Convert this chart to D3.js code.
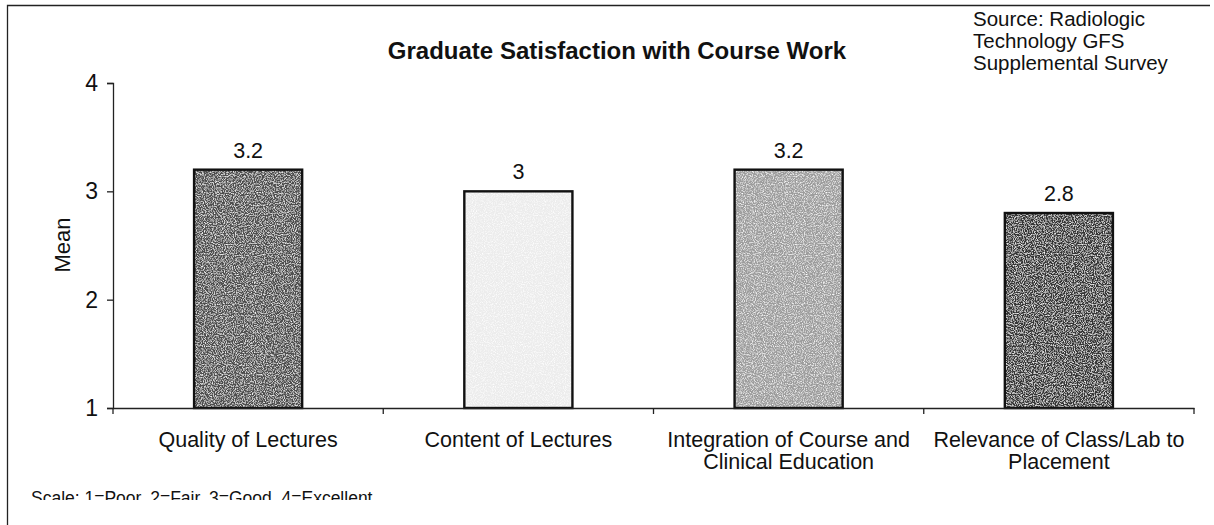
<!DOCTYPE html>
<html>
<head>
<meta charset="utf-8">
<script src="https://cdn.jsdelivr.net/npm/d3@7/dist/d3.min.js"></script>
<style>
  html, body { margin: 0; padding: 0; background: #fff; }
  svg { display: block; font-family: Arial, "Liberation Sans", sans-serif; }
</style>
</head>
<body>
<svg id="chart" width="1214" height="525"></svg>
<script>
const categories = [
  ["Quality of Lectures"],
  ["Content of Lectures"],
  ["Integration of Course and", "Clinical Education"],
  ["Relevance of Class/Lab to", "Placement"]
];
const values = [3.2, 3, 3.2, 2.8];
const valueLabels = ["3.2", "3", "3.2", "2.8"];
const barColors = ["#4e4e4e", "#ececec", "#9c9c9c", "#353535"];
const yTicks = [1, 2, 3, 4];
const title = "Graduate Satisfaction with Course Work";
const sourceLines = ["Source: Radiologic", "Technology GFS", "Supplemental Survey"];
const yLabel = "Mean";
const scaleNote = "Scale: 1=Poor, 2=Fair, 3=Good, 4=Excellent";

const svg = d3.select("#chart");

// frame (left + top edges visible)
svg.append("path")
  .attr("d", "M7.5,525 L7.5,5.5 L1210,5.5")
  .attr("fill", "none").attr("stroke", "#222").attr("stroke-width", 1.3);

const x0 = 113, x1 = 1194, yTop = 83, yBot = 408;
const keys = categories.map((d, i) => i);
const x = d3.scaleBand().domain(keys).range([x0, x1]).paddingInner(0.6).paddingOuter(0.3);
const xb = d3.scaleBand().domain(keys).range([x0, x1]);
const y = d3.scaleLinear().domain([1, 4]).range([yBot, yTop]);

// noise filter for texture
const defs = svg.append("defs");
const f = defs.append("filter").attr("id", "grain").attr("x", 0).attr("y", 0).attr("width", 1).attr("height", 1);
f.append("feTurbulence").attr("type", "fractalNoise").attr("baseFrequency", 0.9).attr("numOctaves", 2).attr("seed", 3).attr("result", "n");
f.append("feColorMatrix").attr("in", "n").attr("type", "matrix")
  .attr("values", "0 0 0 0 1  0 0 0 0 1  0 0 0 0 1  0 0 0 -2.2 1.25").attr("result", "m");
f.append("feComposite").attr("in", "m").attr("in2", "SourceGraphic").attr("operator", "in").attr("result", "c");
f.append("feMerge").selectAll("feMergeNode").data(["SourceGraphic", "c"]).join("feMergeNode").attr("in", d => d);

// bars
const bars = svg.append("g");
bars.selectAll("rect.bar").data(values).join("rect")
  .attr("class", "bar")
  .attr("x", (d, i) => x(i))
  .attr("y", d => y(d))
  .attr("width", x.bandwidth())
  .attr("height", d => y(1) - y(d))
  .attr("fill", (d, i) => barColors[i])
  .attr("filter", "url(#grain)");
bars.selectAll("rect.outline").data(values).join("rect")
  .attr("class", "outline")
  .attr("x", (d, i) => x(i))
  .attr("y", d => y(d))
  .attr("width", x.bandwidth())
  .attr("height", d => y(1) - y(d))
  .attr("fill", "none").attr("stroke", "#111").attr("stroke-width", 2.4);

// value labels
svg.append("g").selectAll("text").data(values).join("text")
  .attr("x", (d, i) => x(i) + x.bandwidth() / 2)
  .attr("y", d => y(d) - 12)
  .attr("text-anchor", "middle")
  .attr("font-size", 21.5)
  .attr("fill", "#111")
  .text((d, i) => valueLabels[i]);

// y axis
const yAxis = d3.axisLeft(y).tickValues(yTicks).tickFormat(d3.format("d")).tickSize(6).tickPadding(9);
const gy = svg.append("g").attr("transform", `translate(${x0},0)`).call(yAxis);
gy.select(".domain").attr("stroke", "#222").attr("stroke-width", 1.3);
gy.selectAll(".tick line").attr("stroke", "#222").attr("stroke-width", 1.3);
gy.selectAll(".tick text").attr("font-size", 23).attr("fill", "#111").attr("font-family", "Arial, 'Liberation Sans', sans-serif");

// x axis
const xAxis = d3.axisBottom(xb).tickValues([]).tickSize(0);
const gx = svg.append("g").attr("transform", `translate(0,${yBot})`).call(xAxis);
gx.select(".domain").attr("stroke", "#222").attr("stroke-width", 1.5);
// category separator ticks
const sepPos = keys.map(k => xb(k)).concat([x1]);
gx.selectAll("line.sep").data(sepPos).join("line")
  .attr("class", "sep")
  .attr("x1", d => d).attr("x2", d => d)
  .attr("y1", 0).attr("y2", 6)
  .attr("stroke", "#222").attr("stroke-width", 1.3);

// category labels
const cl = svg.append("g").selectAll("text").data(categories).join("text")
  .attr("x", (d, i) => xb(i) + xb.bandwidth() / 2)
  .attr("y", 447)
  .attr("text-anchor", "middle")
  .attr("font-size", 21.5)
  .attr("fill", "#111");
cl.selectAll("tspan").data(d => d).join("tspan")
  .attr("x", function () { return d3.select(this.parentNode).attr("x"); })
  .attr("dy", (d, j) => j === 0 ? 0 : 22)
  .text(d => d);

// y label
svg.append("text")
  .attr("transform", "translate(70,245) rotate(-90)")
  .attr("text-anchor", "middle")
  .attr("font-size", 22)
  .attr("fill", "#111")
  .text(yLabel);

// title
svg.append("text")
  .attr("x", 617).attr("y", 59)
  .attr("text-anchor", "middle")
  .attr("font-size", 24).attr("font-weight", "bold")
  .attr("fill", "#111")
  .text(title);

// source
svg.append("text")
  .attr("x", 973).attr("y", 26)
  .attr("font-size", 20.5).attr("fill", "#111")
  .selectAll("tspan").data(sourceLines).join("tspan")
  .attr("x", 973).attr("dy", (d, i) => i === 0 ? 0 : 22)
  .text(d => d);

// scale note (clipped at the bottom like the scan)
defs.append("clipPath").attr("id", "noteclip")
  .append("rect").attr("x", 0).attr("y", 470).attr("width", 1214).attr("height", 30);
svg.append("text")
  .attr("x", 31).attr("y", 504)
  .attr("font-size", 17.5).attr("fill", "#111")
  .attr("clip-path", "url(#noteclip)")
  .text(scaleNote);
</script>
</body>
</html>
